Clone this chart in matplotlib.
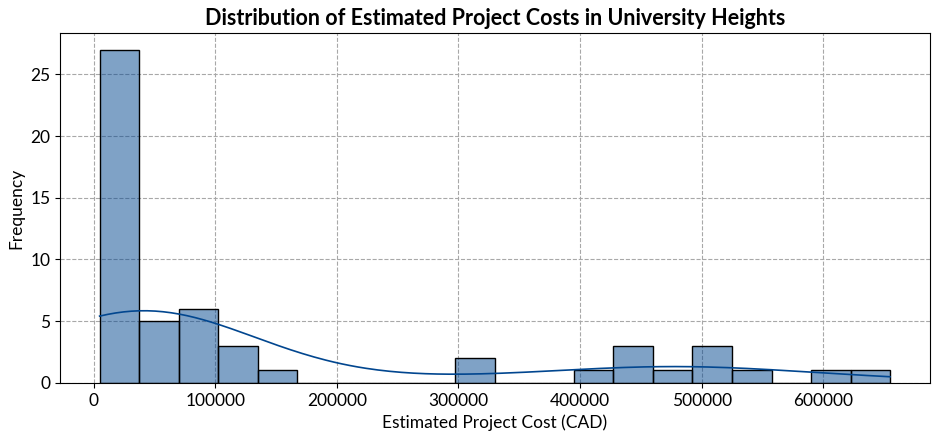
import numpy as np
import seaborn as sns
from matplotlib import pyplot as plt

# estimated project costs (CAD), read off the histogram bins
costs = [5000, 8000, 10000, 10000, 12000, 12500, 15000, 15000, 18000, 20000,
         20000, 20000, 22000, 25000, 25000, 25000, 25000, 28000, 30000, 30000,
         30000, 30000, 32000, 35000, 35000, 35000, 36000,
         40000, 45000, 50000, 55000, 65000,
         75000, 80000, 85000, 90000, 95000, 100000,
         110000, 120000, 125000,
         150000,
         300000, 320000,
         400000,
         430000, 450000, 450000,
         475000,
         500000, 500000, 520000,
         550000,
         600000,
         655000]

plt.rcParams['font.family'] = ['Lato', 'DejaVu Sans']

fig, ax = plt.subplots(figsize=(9.39, 4.4), dpi=100)
sns.histplot(costs, bins=20, kde=True, color='#01468f', alpha=0.5,
             edgecolor='black', linewidth=1, ax=ax)
ax.lines[0].set_linewidth(1.2)
ax.grid(True, linestyle='--', color='#a8a8a8', linewidth=0.8)
ax.set_axisbelow(True)
ax.set_title("Distribution of Estimated Project Costs in University Heights",
             fontsize=15.5, fontweight='bold')
ax.set_xlabel("Estimated Project Cost (CAD)", fontsize=12.5)
ax.set_ylabel("Frequency", fontsize=12.5)
ax.tick_params(labelsize=12.5)
fig.subplots_adjust(left=0.064, right=0.990, top=0.925, bottom=0.130)
plt.savefig("out.png")
